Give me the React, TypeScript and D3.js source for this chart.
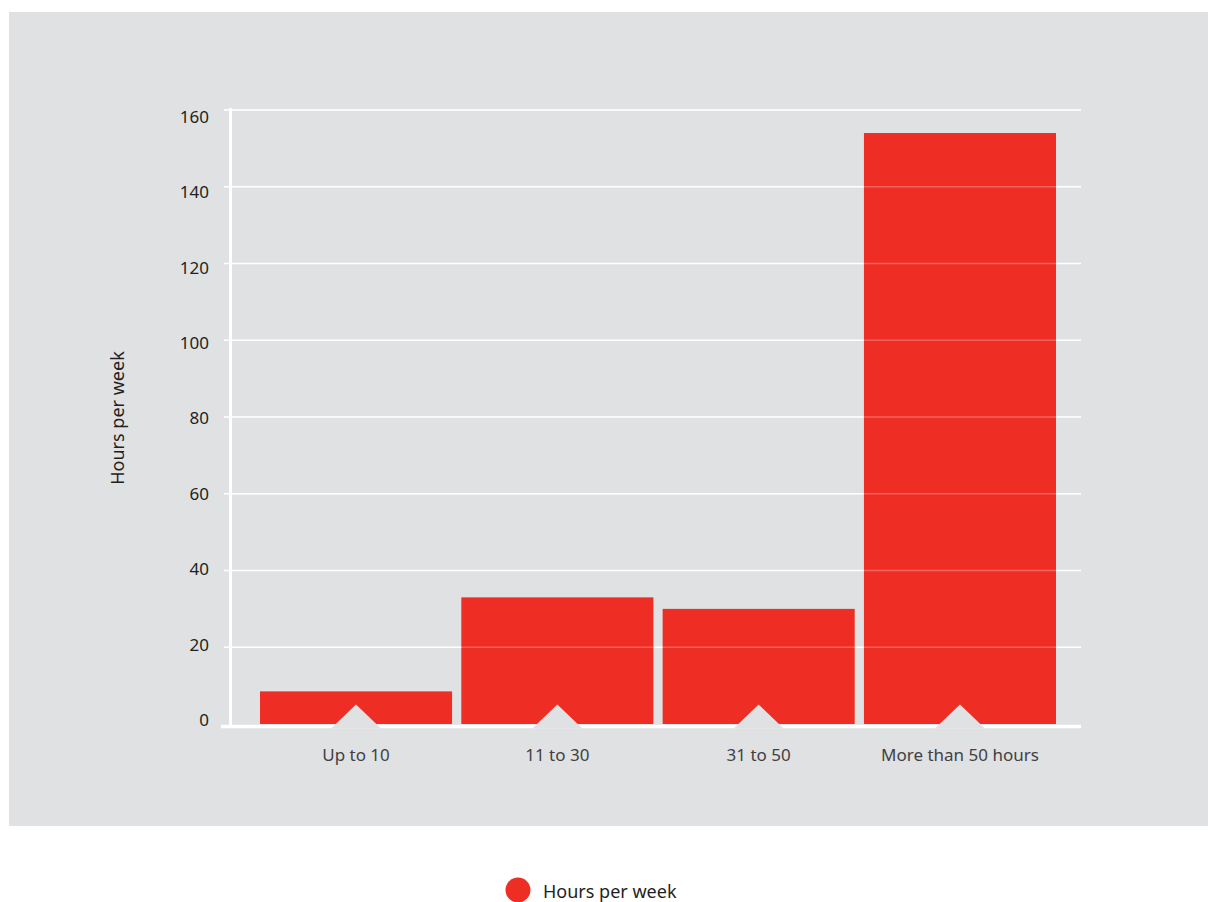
import React from "react";
import * as d3 from "d3";

const categories = ["Up to 10", "11 to 30", "31 to 50", "More than 50 hours"];
const hoursPerWeek = [8.5, 33, 30, 154];
const yTicks = [0, 20, 40, 60, 80, 100, 120, 140, 160];
const seriesName = "Hours per week";

const W = 1208;
const H = 902;
const RED = "#ee2e24";
const PANEL = "#e0e1e3";
const FONT = "'Noto Sans', 'Open Sans', sans-serif";

export default function App() {
  const x = d3
    .scaleBand<string>()
    .domain(categories)
    .range([260, 1056])
    .paddingInner(0.046)
    .paddingOuter(0);
  const y = d3.scaleLinear().domain([0, 160]).range([724, 110]);
  // tick labels sit on a slightly tighter ladder than the grid
  const yLabel = d3.scaleLinear().domain([0, 160]).range([720, 117]);

  const gridX0 = 224;
  const gridX1 = 1081;
  const triW = 50;
  const triH = 24;
  const baseY = 726.5;

  return (
    <svg
      width={W}
      height={H}
      style={{ position: "absolute", left: 0, top: 0, display: "block" }}
      fontFamily={FONT}
    >
      <rect x={0} y={0} width={W} height={H} fill="#ffffff" />
      <rect x={9} y={12} width={1199} height={814} fill={PANEL} />

      {/* grid behind bars */}
      {yTicks
        .filter((t) => t > 0)
        .map((t) => (
          <line
            key={"g" + t}
            x1={gridX0}
            x2={gridX1}
            y1={y(t)}
            y2={y(t)}
            stroke="#ffffff"
            strokeWidth={1.5}
          />
        ))}

      {/* bars */}
      {categories.map((c, i) => (
        <rect
          key={c}
          x={x(c)}
          y={y(hoursPerWeek[i])}
          width={x.bandwidth()}
          height={y(0) - y(hoursPerWeek[i])}
          fill={RED}
        />
      ))}

      {/* faint grid over bars */}
      {yTicks
        .filter((t) => t > 0)
        .map((t) => (
          <line
            key={"go" + t}
            x1={gridX0}
            x2={gridX1}
            y1={y(t)}
            y2={y(t)}
            stroke="#ffffff"
            strokeOpacity={0.25}
            strokeWidth={1.5}
          />
        ))}

      {/* axes */}
      <line x1={230.5} x2={230.5} y1={108} y2={726} stroke="#ffffff" strokeWidth={3} />
      <line x1={221} x2={gridX1} y1={baseY} y2={baseY} stroke="#ffffff" strokeWidth={3.5} />

      {/* category markers */}
      {categories.map((c) => {
        const cx = (x(c) as number) + x.bandwidth() / 2;
        const by = baseY + 2;
        return (
          <path
            key={"t" + c}
            d={`M${cx - triW / 2},${by} L${cx},${by - triH} L${cx + triW / 2},${by} Z`}
            fill={PANEL}
          />
        );
      })}

      {/* y tick labels */}
      {yTicks.map((t) => (
        <text
          key={"yl" + t}
          x={209}
          y={yLabel(t)}
          dy="0.35em"
          textAnchor="end"
          fontSize={17}
          fill="#231f20"
        >
          {t}
        </text>
      ))}

      {/* x labels */}
      {categories.map((c) => (
        <text
          key={"xl" + c}
          x={(x(c) as number) + x.bandwidth() / 2}
          y={761}
          textAnchor="middle"
          fontSize={17}
          fill="#414042"
        >
          {c}
        </text>
      ))}

      {/* y axis title */}
      <text
        transform={`translate(124, 418) rotate(-90)`}
        textAnchor="middle"
        fontSize={18}
        fill="#231f20"
      >
        {seriesName}
      </text>

      {/* legend */}
      <circle cx={518} cy={890} r={12.5} fill={RED} />
      <text x={543} y={898} fontSize={18} fill="#231f20">
        {seriesName}
      </text>
    </svg>
  );
}
